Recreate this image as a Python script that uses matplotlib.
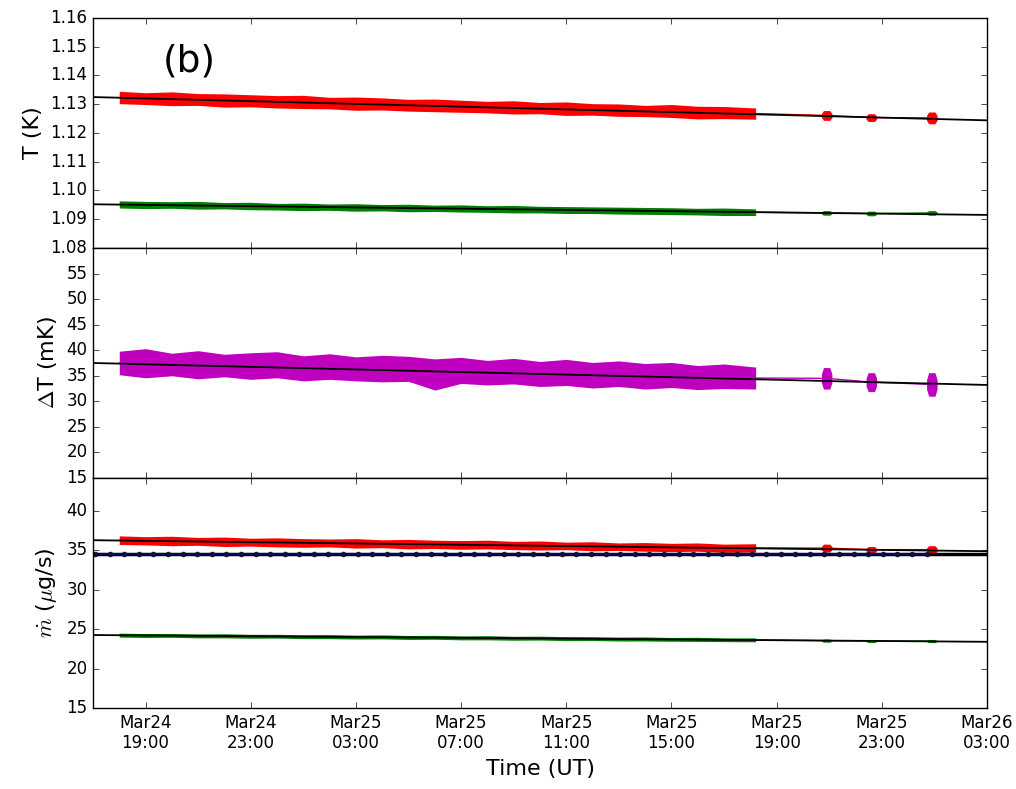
import matplotlib
matplotlib.use('Agg')
import matplotlib.pyplot as plt
import matplotlib.dates as mdates
import numpy as np
from datetime import datetime

# hours after Mar24 17:00 UT
start = mdates.date2num(datetime(2016, 3, 24, 17, 0))
t_cont = np.array([1, 2, 3, 4, 5, 6, 7, 8, 9, 10, 11, 12, 13, 14, 15, 16, 17, 18, 19, 20,
                   21, 22, 23, 24, 25.2])
t_blob = np.array([27.9, 29.6, 31.9])
t_fit = np.array([0.0, 34.0])
t_flow = np.linspace(0.08, 31.7, 58)

# top panel: T (K)
red_T_hi = [1.1345, 1.1340, 1.1343, 1.1337, 1.1336, 1.1333, 1.1330, 1.1331, 1.1324, 1.1325,
            1.1322, 1.1317, 1.1318, 1.1314, 1.1310, 1.1312, 1.1306, 1.1308, 1.1302, 1.1301,
            1.1296, 1.1299, 1.1293, 1.1292, 1.1287]
red_T_lo = [1.1302, 1.1299, 1.1295, 1.1296, 1.1290, 1.1291, 1.1287, 1.1285, 1.1284, 1.1279,
            1.1280, 1.1276, 1.1274, 1.1272, 1.1270, 1.1266, 1.1267, 1.1261, 1.1262, 1.1258,
            1.1257, 1.1254, 1.1249, 1.1250, 1.1248]
red_T_blob_hi = [1.1278, 1.1267, 1.1273]
red_T_blob_lo = [1.1244, 1.1240, 1.1232]
red_T_fit = [1.1325, 1.1244]

green_T_hi = [1.0964, 1.0962, 1.0961, 1.0962, 1.0958, 1.0959, 1.0955, 1.0956, 1.0953, 1.0954,
              1.0951, 1.0952, 1.0949, 1.0950, 1.0947, 1.0948, 1.0945, 1.0944, 1.0943, 1.0942,
              1.0941, 1.0940, 1.0938, 1.0939, 1.0936]
green_T_lo = [1.0939, 1.0937, 1.0938, 1.0935, 1.0936, 1.0933, 1.0932, 1.0930, 1.0931, 1.0928,
              1.0929, 1.0926, 1.0927, 1.0925, 1.0924, 1.0922, 1.0922, 1.0920, 1.0920, 1.0918,
              1.0917, 1.0916, 1.0915, 1.0913, 1.0913]
green_T_blob_hi = [1.0930, 1.0928, 1.0930]
green_T_blob_lo = [1.0914, 1.0912, 1.0914]
green_T_fit = [1.0952, 1.0915]

# middle panel: dT (mK)
mag_hi = [39.8, 40.3, 39.4, 39.9, 39.2, 39.5, 39.7, 38.9, 39.3, 38.7, 39.0, 38.8, 38.3, 38.6,
          38.0, 38.4, 37.8, 38.2, 37.6, 37.9, 37.4, 37.6, 37.0, 37.3, 36.7]
mag_lo = [35.2, 34.6, 35.0, 34.4, 34.8, 34.3, 34.6, 34.0, 34.3, 34.0, 33.8, 33.9, 32.2, 33.5,
          33.2, 33.4, 32.9, 33.1, 32.6, 32.9, 32.4, 32.7, 32.3, 32.5, 32.4]
mag_blob_hi = [36.6, 35.6, 35.6]
mag_blob_lo = [32.4, 31.9, 31.0]
mag_fit = [37.5, 33.2]

# bottom panel: mdot (ug/s)
red_m_hi = [36.85, 36.75, 36.8, 36.65, 36.7, 36.55, 36.6, 36.5, 36.45, 36.5, 36.35, 36.4, 36.3,
            36.25, 36.3, 36.15, 36.2, 36.05, 36.1, 35.95, 36.0, 35.9, 35.95, 35.8, 35.85]
red_m_lo = [35.75, 35.7, 35.6, 35.65, 35.5, 35.55, 35.45, 35.4, 35.45, 35.3, 35.35, 35.2, 35.25,
            35.15, 35.2, 35.1, 35.05, 35.1, 34.95, 35.0, 34.9, 34.85, 34.9, 34.75, 34.8]
red_m_blob_hi = [35.8, 35.5, 35.6]
red_m_blob_lo = [34.8, 34.7, 34.6]
red_m_fit = [36.3, 34.9]

green_m_hi = [24.5, 24.45, 24.45, 24.4, 24.42, 24.35, 24.35, 24.3, 24.32, 24.25, 24.28, 24.2,
              24.22, 24.15, 24.18, 24.1, 24.12, 24.05, 24.05, 24.0, 24.02, 23.95, 23.97, 23.9, 23.9]
green_m_lo = [24.0, 23.95, 23.97, 23.9, 23.9, 23.85, 23.87, 23.8, 23.8, 23.75, 23.77, 23.7,
              23.72, 23.65, 23.65, 23.6, 23.62, 23.55, 23.57, 23.5, 23.5, 23.47, 23.45, 23.42, 23.4]
green_m_blob_hi = [23.75, 23.7, 23.7]
green_m_blob_lo = [23.35, 23.3, 23.3]
green_m_fit = [24.26, 23.4]

flow_m = np.full(len(t_flow), 34.6)
flow_fit = [34.6, 34.6]


def hours(h):
    return start + np.asarray(h, dtype=float) / 24.0


def noisy(ax, color, hi, lo, bhi, blo):
    hi, lo = np.array(hi), np.array(lo)
    bhi, blo = np.array(bhi), np.array(blo)
    ax.fill_between(hours(t_cont), lo, hi, color=color, lw=0)
    # short bursts of data, drawn as rounded blobs
    for tb, h, l in zip(t_blob, bhi, blo):
        mid, half = (h + l) / 2, (h - l) / 2
        xb = hours([tb - 0.2, tb - 0.12, tb + 0.12, tb + 0.2])
        ax.fill_between(xb, [mid - 0.4 * half, l, l, mid - 0.4 * half],
                        [mid + 0.4 * half, h, h, mid + 0.4 * half], color=color, lw=0)
    tc = np.concatenate([t_cont, t_blob])
    yc = np.concatenate([(hi + lo) / 2, (bhi + blo) / 2])
    ax.plot(hours(tc), yc, color=color, lw=1)


def fit(ax, vals):
    ax.plot(hours(t_fit), vals, color='k', lw=1.3)


plt.style.use('classic')
plt.rcParams['font.family'] = ['DejaVu Sans']
fig, axes = plt.subplots(3, 1, sharex=True, figsize=(10.16, 7.89), dpi=100, facecolor='white')
fig.subplots_adjust(left=0.0915, right=0.9715, bottom=0.1027, top=0.9772, hspace=0)
ax1, ax2, ax3 = axes

noisy(ax1, 'r', red_T_hi, red_T_lo, red_T_blob_hi, red_T_blob_lo)
fit(ax1, red_T_fit)
noisy(ax1, 'g', green_T_hi, green_T_lo, green_T_blob_hi, green_T_blob_lo)
fit(ax1, green_T_fit)
ax1.set_ylim(1.08, 1.16)
ax1.set_yticks(np.arange(1.08, 1.1601, 0.01))
ax1.yaxis.set_major_formatter(matplotlib.ticker.FormatStrFormatter('%.2f'))
ax1.set_ylabel('T (K)', fontsize=16)
ax1.text(0.078, 0.81, '(b)', transform=ax1.transAxes, fontsize=27, va='center')

noisy(ax2, 'm', mag_hi, mag_lo, mag_blob_hi, mag_blob_lo)
fit(ax2, mag_fit)
ax2.set_ylim(15, 60)
ax2.set_yticks(np.arange(15, 56, 5))
ax2.set_ylabel(r'$\Delta$T (mK)', fontsize=16)

noisy(ax3, 'r', red_m_hi, red_m_lo, red_m_blob_hi, red_m_blob_lo)
fit(ax3, red_m_fit)
ax3.plot(hours(t_fit), flow_fit, color='k', lw=2.5)
ax3.plot(hours(t_flow), flow_m, color='navy', lw=1.2, marker='.', ms=7, mec='#10103a', mfc='#10103a')
noisy(ax3, 'g', green_m_hi, green_m_lo, green_m_blob_hi, green_m_blob_lo)
fit(ax3, green_m_fit)
ax3.set_ylim(15, 44.2)
ax3.set_yticks(np.arange(15, 41, 5))
ax3.set_ylabel(r'$\dot{m}$ ($\mu$g/s)', fontsize=16)

for ax in axes:
    ax.tick_params(labelsize=12)
    ax.set_facecolor('white')

ax3.set_xlim(hours(0), hours(34))
ax3.xaxis.set_major_locator(mdates.HourLocator(byhour=[3, 7, 11, 15, 19, 23]))
ax3.xaxis.set_major_formatter(mdates.DateFormatter('%b%d\n%H:%M'))
ax3.set_xlabel('Time (UT)', fontsize=16)

fig.savefig('out.png', dpi=100, facecolor='white')
